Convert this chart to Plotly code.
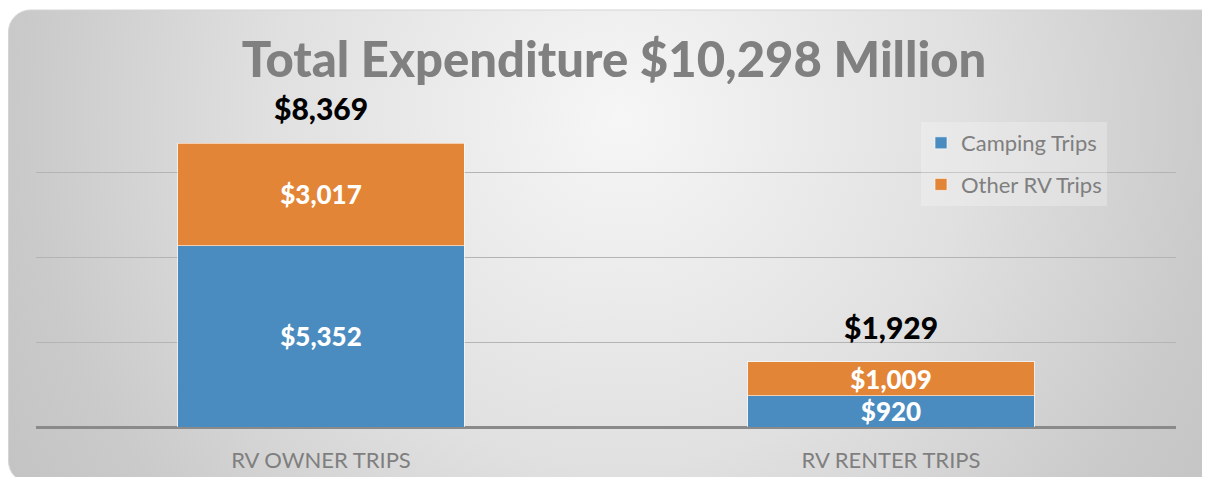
import base64
import plotly.graph_objects as go

# ---- data ----
categories = ["RV OWNER TRIPS", "RV RENTER TRIPS"]
camping = [5352, 920]
other_rv = [3017, 1009]
series_names = ["Camping Trips", "Other RV Trips"]
title_text = "Total Expenditure $10,298 Million"

totals = [a + b for a, b in zip(camping, other_rv)]

# page has an 8px body margin: figure coordinates = page coordinates - 8
OFF = 8
W, H = 1210 - 2 * OFF, 485 - 2 * OFF
ML, MT = 36 - OFF, 88 - OFF
MR = W - (1176 - OFF)
MB = H - (427 - OFF)
FONT = "Lato, 'Open Sans', sans-serif"
BLUE = "#4a8cc0"
ORANGE = "#e38536"

fmt = lambda v: "${:,}".format(v)

fig = go.Figure()
fig.add_trace(go.Bar(
    x=categories, y=camping, name=series_names[0], legendgroup="a",
    marker=dict(color=BLUE, line=dict(color="rgba(255,255,255,0.6)", width=1)),
    text=[fmt(v) for v in camping], textposition="inside", insidetextanchor="middle",
    constraintext="none",
    textfont=dict(color="white", size=26, family=FONT, weight=900),
    hoverinfo="skip",
))
fig.add_trace(go.Bar(
    x=categories, y=other_rv, name=series_names[1], legendgroup="b",
    marker=dict(color=ORANGE, line=dict(color="rgba(255,255,255,0.6)", width=1)),
    text=[fmt(v) for v in other_rv], textposition="inside", insidetextanchor="middle",
    constraintext="none",
    textfont=dict(color="white", size=26, family=FONT, weight=900),
    hoverinfo="skip",
))

for c, t in zip(categories, totals):
    fig.add_annotation(x=c, y=t, text=fmt(t), showarrow=False,
                       yanchor="bottom", yshift=15,
                       font=dict(size=30, color="black", family=FONT, weight=900))

# background panel with radial gradient (figure pixel coords)
svg = f'''<svg xmlns="http://www.w3.org/2000/svg" width="{W}" height="{H}" viewBox="0 0 {W} {H}">
<defs><radialGradient id="g" gradientUnits="userSpaceOnUse" cx="612" cy="112" r="700">
<stop offset="0" stop-color="#f6f6f6"/><stop offset="0.5" stop-color="#e0e0e0"/>
<stop offset="0.85" stop-color="#cacaca"/><stop offset="1" stop-color="#c4c4c4"/>
</radialGradient></defs>
<rect x="0.5" y="2" width="1230" height="473" rx="22" ry="22" fill="url(#g)" stroke="#d4d4d4" stroke-width="1"/>
</svg>'''
src = "data:image/svg+xml;base64," + base64.b64encode(svg.encode()).decode()
pw = W - ML - MR
ph = H - MT - MB
fig.add_layout_image(dict(
    source=src, xref="paper", yref="paper",
    x=-ML / pw, y=1 + MT / ph, sizex=W / pw, sizey=H / ph,
    xanchor="left", yanchor="top", sizing="stretch", layer="below",
))

fig.update_layout(
    width=W, height=H, autosize=False,
    margin=dict(l=ML, r=MR, t=MT, b=MB, pad=0),
    paper_bgcolor="white", plot_bgcolor="rgba(0,0,0,0)",
    barmode="stack", bargap=0.497,
    font=dict(family=FONT, color="#7f7f7f"),
    title=dict(text=title_text, x=(614 - 36) / pw, xref="paper",
               xanchor="center", y=1 - (60 - OFF) / H, yanchor="middle",
               font=dict(size=49, color="#808080", family=FONT, weight=900),
               automargin=False),
    legend=dict(x=(921 - 36) / pw, y=(427 - 122) / ph, xanchor="left", yanchor="top",
                bgcolor="rgba(255,255,255,0.25)", borderwidth=0,
                font=dict(size=22, color="#7f7f7f", family=FONT),
                traceorder="grouped", tracegroupgap=10),
    showlegend=True,
)
fig.update_xaxes(showgrid=False, showline=False, ticks="", ticklabelstandoff=18,
                 automargin=False,
                 tickfont=dict(size=22, color="#7f7f7f", family=FONT))
fig.update_yaxes(range=[0, 10000], dtick=2500, showticklabels=False, automargin=False,
                 showgrid=True, gridcolor="#b4b4b4", gridwidth=1.3,
                 zeroline=True, zerolinecolor="#8a8a8a", zerolinewidth=3)

fig.write_html("out.html")
